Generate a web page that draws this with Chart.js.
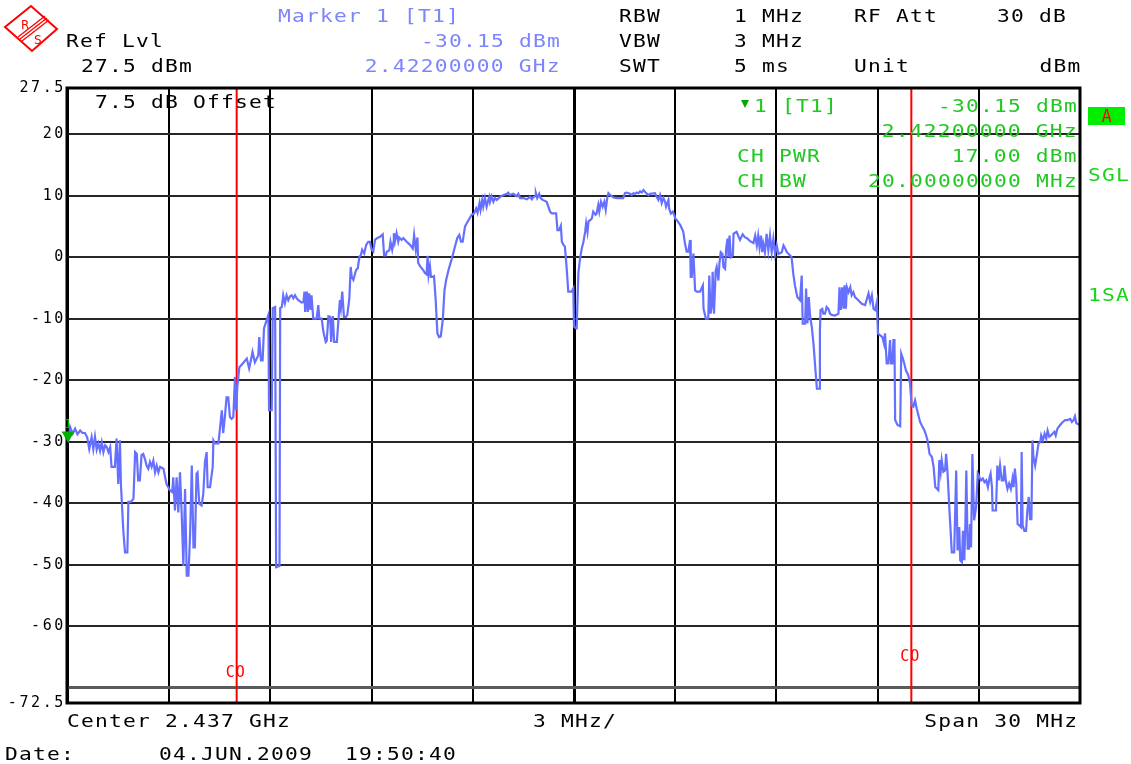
<!DOCTYPE html>
<html><head><meta charset="utf-8">
<script src="https://cdn.jsdelivr.net/npm/chart.js@4.4.1/dist/chart.umd.min.js"></script>
<style>
html,body{margin:0;padding:0;background:#fff;overflow:hidden;}
#wrap{position:relative;width:1131px;height:764px;background:#fff;}
canvas{position:absolute;left:0;top:0;}
.t{position:absolute;font-family:"DejaVu Sans Mono",monospace;font-size:17px;letter-spacing:0.96px;line-height:20px;white-space:pre;transform:scaleX(1.25);transform-origin:left center;}
.t.r{transform-origin:right center;}
#logo{position:absolute;left:0;top:0;}
</style></head>
<body><div id="wrap"><canvas id="c" width="1131" height="764"></canvas>
<svg id="logo" width="66" height="58" viewBox="0 0 66 58">
<polygon points="5,27 31,6 57,29 32,51" fill="none" stroke="#ff0000" stroke-width="2"/>
<line x1="18" y1="37" x2="45" y2="16" stroke="#ff0000" stroke-width="1.3"/>
<line x1="20" y1="39" x2="47" y2="18" stroke="#ff0000" stroke-width="1.3"/>
<line x1="22" y1="41" x2="49" y2="20" stroke="#ff0000" stroke-width="1.3"/>
<text x="21" y="29" font-family="DejaVu Sans" font-size="12" fill="#ff0000">R</text>
<text x="34" y="44" font-family="DejaVu Sans" font-size="12" fill="#ff0000">S</text>
</svg>
</div>
<script>
// ---- data ----
const freqMHz = [
2422.00,2422.06,2422.14,2422.21,2422.28,2422.36,2422.43,2422.50,2422.57,2422.63,2422.70,2422.75,2422.80,2422.85,2422.90,2422.95,
2423.00,2423.05,2423.10,2423.15,2423.20,2423.25,2423.29,2423.39,2423.44,2423.49,2423.54,2423.57,2423.64,2423.69,2423.76,2423.79,2423.86,2423.94,2423.99,
2424.04,2424.08,2424.13,2424.18,2424.23,2424.28,2424.33,2424.38,2424.43,2424.48,2424.53,2424.58,2424.63,2424.68,2424.73,2424.83,2424.92,
2425.02,2425.09,2425.12,2425.17,2425.22,2425.27,2425.32,2425.37,2425.42,2425.47,2425.52,2425.57,2425.62,2425.67,2425.72,2425.76,2425.81,2425.84,2425.89,2425.96,
2426.01,2426.06,2426.11,2426.14,2426.21,2426.29,2426.31,2426.36,2426.46,2426.51,2426.56,2426.60,2426.65,2426.70,2426.75,2426.80,2426.85,2426.90,2426.95,2426.98,
2427.02,2427.08,2427.18,2427.30,2427.37,2427.42,2427.47,2427.54,2427.64,2427.67,2427.72,2427.77,2427.81,2427.89,2427.94,2427.96,
2428.04,2428.07,2428.14,2428.17,2428.27,2428.29,2428.34,2428.38,2428.43,2428.48,2428.53,2428.58,2428.63,2428.68,2428.73,2428.78,2428.83,2428.93,2428.98,
2429.01,2429.03,2429.08,2429.11,2429.15,2429.19,2429.22,2429.27,2429.32,2429.37,2429.42,2429.45,2429.52,2429.57,2429.64,2429.67,2429.72,2429.77,2429.80,2429.85,2429.89,2429.97,
2430.02,2430.06,2430.09,2430.13,2430.18,2430.24,2430.28,2430.34,2430.38,2430.41,2430.46,2430.54,2430.59,2430.64,2430.68,2430.72,2430.78,2430.84,2430.90,2430.95,
2431.00,2431.05,2431.10,2431.17,2431.25,2431.33,2431.37,2431.42,2431.45,2431.50,2431.53,2431.56,2431.61,2431.65,2431.66,2431.69,2431.74,2431.79,2431.82,2431.89,2431.94,
2432.04,2432.14,2432.22,2432.26,2432.31,2432.36,2432.38,2432.44,2432.53,2432.58,2432.63,2432.66,2432.69,2432.73,2432.76,2432.81,2432.85,2432.90,2432.95,
2433.00,2433.05,2433.11,2433.16,2433.21,2433.28,2433.38,2433.47,2433.54,2433.60,2433.65,2433.70,2433.77,2433.87,2433.97,
2434.04,2434.10,2434.14,2434.20,2434.23,2434.28,2434.31,2434.36,2434.41,2434.46,2434.49,2434.51,2434.56,2434.61,2434.66,2434.71,2434.81,2434.91,
2435.01,2435.05,2435.10,2435.20,2435.30,2435.35,2435.40,2435.50,2435.60,2435.70,2435.75,2435.80,2435.85,2435.87,2435.91,2435.97,
2436.01,2436.07,2436.19,2436.24,2436.29,2436.34,2436.47,2436.51,2436.56,2436.61,2436.64,2436.69,2436.73,2436.78,2436.83,2436.93,2436.98,
2437.00,2437.06,2437.08,2437.13,2437.18,2437.23,2437.28,2437.33,2437.36,2437.40,2437.43,2437.48,2437.53,2437.57,2437.64,2437.67,2437.72,2437.75,2437.80,2437.85,2437.90,2437.94,2437.99,
2438.02,2438.07,2438.17,2438.27,2438.46,2438.51,2438.56,2438.66,2438.71,2438.76,2438.81,2438.86,2438.91,2438.96,
2439.01,2439.06,2439.14,2439.21,2439.26,2439.40,2439.45,2439.50,2439.55,2439.60,2439.65,2439.70,2439.73,2439.80,2439.82,2439.87,2439.93,2439.97,
2440.00,2440.05,2440.15,2440.24,2440.29,2440.34,2440.39,2440.44,2440.46,2440.49,2440.54,2440.59,2440.64,2440.74,2440.82,2440.84,2440.91,2440.98,
2441.01,2441.05,2441.09,2441.11,2441.15,2441.20,2441.23,2441.28,2441.31,2441.35,2441.40,2441.43,2441.48,2441.51,2441.55,2441.58,2441.61,2441.65,2441.71,2441.73,2441.82,2441.92,
2442.00,2442.07,2442.12,2442.22,2442.32,2442.37,2442.42,2442.46,2442.50,2442.54,2442.58,2442.61,2442.66,2442.71,2442.76,2442.81,2442.86,2442.91,2442.96,
2443.01,2443.06,2443.16,2443.21,2443.26,2443.31,2443.40,2443.45,2443.50,2443.55,2443.62,2443.70,2443.75,2443.78,2443.85,2443.88,2443.92,2443.96,
2444.00,2444.05,2444.10,2444.15,2444.20,2444.28,2444.29,2444.31,2444.36,2444.39,2444.44,2444.49,2444.54,2444.59,2444.64,2444.74,2444.84,2444.87,2444.91,2444.95,2444.99,
2445.02,2445.06,2445.09,2445.14,2445.19,2445.23,2445.28,2445.33,2445.43,2445.53,2445.63,2445.73,2445.78,2445.83,2445.88,2445.93,2445.98,
2446.01,2446.07,2446.14,2446.19,2446.22,2446.27,2446.32,2446.37,2446.40,2446.44,2446.47,2446.50,2446.52,2446.59,2446.67,2446.70,2446.75,2446.79,2446.84,2446.91,2446.96,
2447.01,2447.06,2447.11,2447.16,2447.21,2447.26,2447.33,2447.39,2447.44,2447.48,2447.54,2447.61,2447.66,2447.71,2447.80,2447.83,2447.87,2447.90,2447.95,
2448.00,2448.03,2448.07,2448.13,2448.17,2448.20,2448.27,2448.33,2448.37,2448.42,2448.45,2448.50,2448.53,2448.57,2448.60,2448.63,2448.67,2448.71,2448.74,2448.77,2448.81,2448.86,2448.92,2448.97,
2449.02,2449.07,2449.12,2449.17,2449.22,2449.27,2449.32,2449.35,2449.39,2449.41,2449.51,2449.55,2449.59,2449.63,2449.68,2449.73,2449.76,2449.80,2449.85,2449.90,2449.95,
2450.00,2450.03,2450.07,2450.11,2450.15,2450.20,2450.25,2450.27,2450.30,2450.35,2450.40,2450.44,2450.48,2450.52,2450.56,2450.59,2450.62,2450.67,2450.72,2450.77,2450.82,2450.85,2450.90,2450.95,
2451.00,2451.04,2451.09,2451.14,2451.19,2451.24,2451.28,2451.33,2451.41,2451.49,2451.56,2451.63,2451.71,2451.76,2451.81,2451.85,2451.89,2451.96,2452.00
];
const levelDbm = [
-30.2,-27.6,-28.7,-27.9,-28.8,-28.2,-28.6,-28.6,-29.3,-31.2,-29.3,-31.2,-29.2,-31.3,-30.3,-31.5,
-30.1,-31.7,-30.6,-30.9,-31.7,-30.9,-34.1,-34.1,-29.5,-36.9,-29.8,-37.1,-44.5,-48.0,-48.0,-39.8,-39.8,-39.3,-31.7,
-32.0,-36.3,-36.3,-32.2,-32.0,-32.8,-33.9,-34.4,-33.3,-34.1,-33.1,-35.0,-33.9,-35.0,-34.1,-34.4,-36.9,
-37.9,-38.2,-35.8,-41.2,-35.8,-41.5,-35.0,-41.7,-50.2,-37.7,-51.8,-51.8,-45.0,-33.9,-47.2,-47.2,-35.2,-35.0,-40.1,-40.4,
-38.5,-33.3,-31.7,-37.4,-37.4,-34.1,-29.8,-30.3,-30.3,-27.6,-24.9,-28.6,-26.0,-22.8,-22.8,-26.0,-26.3,-26.0,-19.5,-24.9,
-21.1,-17.9,-17.3,-16.5,-18.1,-16.8,-15.4,-17.1,-16.0,-13.0,-16.8,-16.8,-11.6,-10.2,-9.4,-24.9,
-24.9,-8.3,-8.1,-50.4,-50.2,-8.3,-8.1,-6.2,-7.5,-6.2,-7.0,-6.4,-6.2,-6.7,-6.2,-6.7,-7.0,-7.4,-7.3,
-5.6,-8.9,-5.6,-8.9,-5.9,-8.6,-6.2,-10.0,-10.0,-10.0,-7.8,-10.0,-10.0,-12.1,-13.8,-13.6,-9.6,-9.7,-13.8,-9.6,-13.8,-13.8,
-10.0,-7.0,-8.3,-5.6,-9.7,-9.7,-9.4,-6.7,-1.6,-3.2,-3.7,-2.1,-1.8,0.1,0.3,1.2,0.6,2.0,2.5,2.5,
1.2,0.9,2.8,3.1,3.3,3.7,0.3,0.3,0.9,1.0,1.2,2.5,1.2,2.5,3.9,2.5,3.9,2.5,3.2,2.8,3.1,
2.5,2.0,1.4,3.6,1.2,3.2,-0.9,-1.5,-2.1,-2.6,-2.8,0.2,-2.9,-1.5,-3.2,-3.2,-3.1,-7.0,-12.4,
-13.0,-12.9,-10.2,-5.4,-3.7,-2.1,-0.2,1.7,3.1,3.6,2.5,2.5,5.0,6.0,6.9,
7.1,7.9,7.2,8.8,7.7,9.3,8.2,9.6,8.2,9.3,9.8,9.0,9.9,9.0,9.6,9.3,9.8,10.1,
10.3,10.5,10.1,10.3,9.9,10.3,9.6,9.6,9.4,9.8,9.4,9.8,9.9,10.4,9.6,10.3,
9.6,9.3,9.0,8.2,7.4,7.1,7.1,4.4,4.4,5.1,2.5,2.0,1.7,-1.6,-5.6,-5.6,-5.1,
-11.3,-11.6,-11.3,-2.6,-0.2,1.4,2.5,4.1,5.5,4.1,5.8,6.0,6.3,7.4,6.9,7.1,8.5,7.4,9.0,8.2,9.0,7.7,9.8,
10.4,10.1,9.7,9.6,9.6,10.4,10.5,10.3,10.1,10.4,10.3,10.5,10.4,10.7,
10.5,10.9,10.4,10.1,10.3,10.4,9.8,9.3,10.1,8.8,9.6,9.0,8.2,9.3,7.9,7.1,7.4,6.9,
6.3,6.0,5.2,4.1,2.2,0.9,0.9,2.8,-3.2,-3.2,0.6,-5.4,-5.6,-5.6,-4.6,-8.4,-10.0,-10.0,
-3.0,-9.2,-7.6,-2.4,-9.2,-2.2,-1.6,-3.8,-1.1,0.8,0.5,-1.6,-1.9,1.4,3.0,0.0,3.5,0.0,0.3,3.8,4.1,2.8,
3.7,3.2,3.1,2.6,2.3,3.5,1.9,3.5,1.6,3.5,0.8,2.2,0.8,3.8,1.1,3.5,0.8,3.0,0.5,
1.9,0.5,0.8,1.9,1.4,0.8,0.3,0.0,-2.7,-4.6,-6.5,-7.0,-3.0,-10.8,-10.8,-5.1,-10.8,-6.5,
-9.7,-11.4,-14.1,-17.8,-21.4,-21.4,-11.9,-8.6,-8.4,-9.2,-9.2,-8.1,-8.4,-9.2,-9.4,-9.5,-9.2,-4.9,-8.6,-4.9,-8.4,
-4.6,-8.4,-4.9,-5.7,-4.9,-6.2,-5.7,-6.5,-7.0,-7.6,-7.8,-5.9,-7.3,-6.2,-8.4,-8.6,-7.3,
-12.4,-12.7,-13.0,-14.1,-12.4,-17.3,-17.3,-13.5,-17.3,-17.3,-13.5,-13.5,-26.5,-27.3,-27.5,-15.7,-16.5,-17.3,-18.4,-19.2,-20.5,
-24.1,-24.3,-23.3,-24.6,-25.7,-26.8,-27.6,-28.2,-29.0,-29.8,-32.0,-32.5,-34.1,-37.4,-37.9,-33.0,-34.9,-33.0,-34.9,
-34.7,-32.0,-34.7,-41.2,-45.0,-48.0,-48.0,-34.7,-47.7,-43.9,-49.3,-49.6,-44.5,-49.3,-43.9,-34.7,-47.4,-47.4,-43.4,-47.2,-32.0,-42.8,-40.7,-35.2,
-35.8,-36.3,-36.0,-36.6,-36.3,-37.4,-35.8,-35.2,-37.4,-41.2,-41.2,-33.9,-36.3,-33.9,-36.3,-36.3,-33.9,-36.3,-37.7,-36.8,-37.7,
-36.0,-37.4,-34.4,-36.8,-43.4,-43.6,-43.9,-31.7,-43.6,-44.5,-44.5,-41.2,-39.0,-42.6,-42.6,-29.8,-32.5,-33.9,-32.2,-30.3,-30.1,-29.0,-29.8,-28.7,
-29.5,-28.2,-29.2,-29.0,-28.7,-28.4,-29.0,-27.9,-27.3,-26.8,-26.5,-26.5,-26.3,-26.8,-26.5,-25.9,-27.0,-27.2,-27.2
];
const startMHz = 2422, stopMHz = 2452, divMHz = 3, centerMHz = 2437;
const refLevel = 27.5, bottomLevel = -72.5;
const yTickValues = [-72.5, -70, -60, -50, -40, -30, -20, -10, 0, 10, 20, 27.5];
const yTickLabels = ['-72.5', '', '-60', '-50', '-40', '-30', '-20', '-10', '0', '10', '20', '27.5'];
const channelEdgesMHz = [2427, 2447];
const markerFreqMHz = 2422, markerLevelDbm = -30.15;

const tracePoints = freqMHz.map((f, i) => ({x: f, y: levelDbm[i]}));
const coDatasets = channelEdgesMHz.map(f => ({
  type: 'line', data: [{x: f, y: bottomLevel}, {x: f, y: refLevel}],
  borderColor: '#ff0000', borderWidth: 2, pointRadius: 0, order: 2
}));

const frame = {
  id: 'frame',
  beforeDraw(chart) { chart.ctx.letterSpacing = '2.6px'; },
  afterDraw(chart) {
    const ctx = chart.ctx, a = chart.chartArea, xs = chart.scales.x, ys = chart.scales.y;
    ctx.save();
    ctx.letterSpacing = '0px';
    ctx.strokeStyle = '#000'; ctx.lineWidth = 3;
    ctx.strokeRect(a.left - 1, a.top, a.right - a.left + 1, a.bottom - a.top);
    // CO labels
    ctx.letterSpacing = '1px';
    ctx.fillStyle = '#ff0000';
    ctx.font = '15px "DejaVu Sans Mono"';
    ctx.textAlign = 'center'; ctx.textBaseline = 'middle';
    const offs = [30, 46];
    channelEdgesMHz.forEach((f, i) => {
      ctx.fillText('CO', xs.getPixelForValue(f) - 1, a.bottom - offs[i]);
    });
    // marker 1
    const mx = xs.getPixelForValue(markerFreqMHz), my = ys.getPixelForValue(markerLevelDbm);
    ctx.fillStyle = '#00b000';
    ctx.beginPath();
    ctx.moveTo(mx - 6.5, my - 11); ctx.lineTo(mx + 6.5, my - 11); ctx.lineTo(mx, my); ctx.closePath();
    ctx.fill();
    ctx.letterSpacing = '0px';
    ctx.font = '13px "DejaVu Sans Mono"';
    ctx.fillText('1', mx, my - 18);
    ctx.restore();
  }
};

new Chart(document.getElementById('c'), {
  type: 'line',
  data: {
    datasets: [{
      data: tracePoints, borderColor: '#6670ff', borderWidth: 2.2,
      pointRadius: 0, tension: 0, order: 0
    }].concat(coDatasets)
  },
  options: {
    responsive: false, animation: false, devicePixelRatio: 1,
    layout: {padding: {top: 88, right: 51, bottom: 61, left: 0}},
    plugins: {legend: {display: false}, tooltip: {enabled: false}},
    scales: {
      x: {
        type: 'linear', min: startMHz, max: stopMHz,
        ticks: {display: false, stepSize: divMHz},
        border: {display: false},
        grid: {drawTicks: false, color: '#000',
          lineWidth: c => (c.tick && c.tick.value === centerMHz) ? 3 : 2},
        afterFit: s => { s.height = 0; }
      },
      y: {
        min: bottomLevel, max: refLevel,
        afterBuildTicks: s => { s.ticks = yTickValues.map(v => ({value: v})); },
        ticks: {
          autoSkip: false, padding: 2, color: '#000',
          font: {family: 'DejaVu Sans Mono', size: 15},
          callback: (v) => { const i = yTickValues.indexOf(v); return i >= 0 ? yTickLabels[i] : ''; }
        },
        border: {display: false},
        grid: {drawTicks: false,
          color: c => (c.tick && c.tick.value === -70) ? '#5a5a5a' : '#262626',
          lineWidth: c => (c.tick && c.tick.value === -70) ? 3 : 2},
        afterFit: s => { s.width = 68; }
      }
    }
  },
  plugins: [frame]
});

// ---- annotation texts ----
const wrap = document.getElementById('wrap');
function T(text, x, yc, color, align) {
  const d = document.createElement('div');
  d.className = 't' + (align === 'right' ? ' r' : '');
  d.textContent = text;
  d.style.color = color;
  d.style.top = (yc - 10) + 'px';
  if (align === 'right') d.style.right = (1131 - x - 1) + 'px';
  else d.style.left = (x - 1) + 'px';
  wrap.appendChild(d);
}
const BLK = '#000', BLU = '#7d84ff', GRN = '#22c822';
T('Ref Lvl', 67, 41, BLK);
T('27.5 dBm', 82, 66, BLK);
T('Marker 1 [T1]', 279, 16, BLU);
T('-30.15 dBm', 560, 41, BLU, 'right');
T('2.42200000 GHz', 560, 66, BLU, 'right');
T('RBW', 620, 16, BLK); T('1 MHz', 735, 16, BLK); T('RF Att', 855, 16, BLK); T('30 dB', 1066, 16, BLK, 'right');
T('VBW', 620, 41, BLK); T('3 MHz', 735, 41, BLK);
T('SWT', 620, 66, BLK); T('5 ms', 735, 66, BLK); T('Unit', 855, 66, BLK); T('dBm', 1081, 66, BLK, 'right');
T('7.5 dB Offset', 96, 102, BLK);
T('1 [T1]', 755, 106, GRN);
T('-30.15 dBm', 1077, 106, GRN, 'right');
T('2.42200000 GHz', 1077, 131, GRN, 'right');
T('CH PWR', 738, 156, GRN);
T('17.00 dBm', 1077, 156, GRN, 'right');
T('CH BW', 738, 181, GRN);
T('20.00000000 MHz', 1077, 181, GRN, 'right');
T('SGL', 1089, 175, '#19d419');
T('1SA', 1089, 295, '#19d419');
T('Center 2.437 GHz', 68, 721, BLK);
T('3 MHz/', 534, 721, BLK);
T('Span 30 MHz', 1077, 721, BLK, 'right');
T('Date:', 6, 754, BLK);
T('04.JUN.2009', 160, 754, BLK);
T('19:50:40', 346, 754, BLK);
// small marker triangle before "1 [T1]"
const tri = document.createElement('div');
tri.style.cssText = 'position:absolute;left:741px;top:100px;width:0;height:0;border-left:4.5px solid transparent;border-right:4.5px solid transparent;border-top:8px solid #00a800;';
wrap.appendChild(tri);
// "A" status box
const box = document.createElement('div');
box.style.cssText = 'position:absolute;left:1088px;top:107px;width:37px;height:18px;background:#00ee00;color:#ff0000;font-family:"DejaVu Sans Mono",monospace;font-size:17px;line-height:18px;text-align:center;';
box.textContent = 'A';
wrap.appendChild(box);
</script>
</body></html>
